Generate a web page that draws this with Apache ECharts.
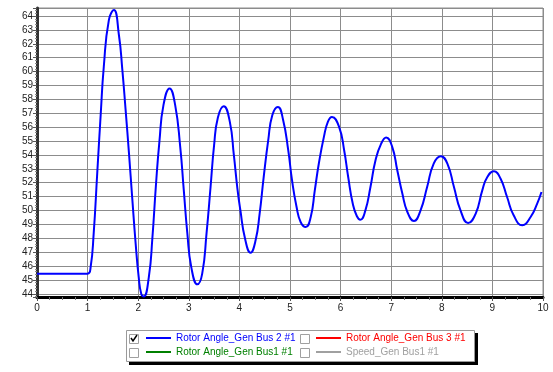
<!DOCTYPE html>
<html>
<head>
<meta charset="utf-8">
<script src="https://cdn.jsdelivr.net/npm/echarts@6/dist/echarts.min.js"></script>
<style>
  html, body { margin: 0; padding: 0; background: #fff; }
  #chart { width: 553px; height: 372px; }
</style>
</head>
<body>
<div id="chart"></div>
<script>
// time (s) and rotor angle (deg)
const times = [0, 1.0, 1.06, 1.12, 1.19, 1.26, 1.32, 1.42, 1.52, 1.62, 1.685, 1.75, 1.82, 1.88, 1.95, 2.01, 2.06, 2.11,
  2.21, 2.28, 2.35, 2.42, 2.50, 2.62, 2.73, 2.83, 2.90, 2.97, 3.05, 3.17,
  3.265, 3.35, 3.43, 3.50, 3.575, 3.69, 3.81, 3.89, 3.96, 4.02, 4.11, 4.22,
  4.32, 4.40, 4.48, 4.57, 4.65, 4.76, 4.865, 4.965, 5.04, 5.13, 5.21, 5.31,
  5.41, 5.49, 5.57, 5.67, 5.75, 5.83, 5.97, 6.07, 6.15, 6.24, 6.32, 6.39,
  6.49, 6.59, 6.69, 6.80, 6.90, 7.02, 7.12, 7.22, 7.32, 7.45,
  7.58, 7.71, 7.84, 7.98, 8.11, 8.24, 8.37, 8.52,
  8.67, 8.80, 8.90, 9.03, 9.16, 9.29, 9.42, 9.59, 9.755, 9.885, 9.97];
const angleBus2 = [45.45, 45.45, 45.93, 48.33, 52.66, 56.98, 60.35, 63.71, 64.43, 62.6, 60.2, 57.3, 54.0, 51.0, 47.6, 45.2, 44.0, 43.81,
  45.2, 48.0, 51.8, 55.0, 57.6, 58.79, 57.6, 54.6, 51.5, 48.4, 45.9, 44.68,
  45.45, 48.33, 51.69, 54.7, 56.7, 57.51, 56.4, 54.0, 51.6, 50.0, 48.0, 46.96,
  47.85, 49.77, 52.41, 55.06, 56.86, 57.46, 56.5, 54.34, 52.18, 50.25, 49.17, 48.81,
  49.53, 51.45, 53.38, 55.3, 56.4, 56.74, 56.02, 54.34, 52.41, 50.5, 49.6, 49.34,
  50.01, 51.69, 53.62, 54.8, 55.25, 54.58, 52.9, 51.22, 49.89, 49.24,
  50.01, 51.69, 53.38, 53.91, 53.38, 51.69, 50.01, 49.1,
  49.77, 51.45, 52.41, 52.82, 52.3, 50.97, 49.65, 48.93, 49.53, 50.5, 51.33];

const seriesNames = ['Rotor Angle_Gen Bus 2 #1', 'Rotor Angle_Gen Bus 3 #1', 'Rotor Angle_Gen Bus1 #1', 'Speed_Gen Bus1 #1'];
const seriesColors = ['#0000ff', '#ff0000', '#008000', '#a0a0a0'];

const chart = echarts.init(document.getElementById('chart'));

const font = 'Liberation Sans, Arial, sans-serif';
// legend placement: [left, top] for each entry
const legendPos = [[146, 333], [316, 333], [146, 347], [316, 347]];

const legends = seriesNames.map((name, i) => ({
  data: [name],
  left: legendPos[i][0],
  top: legendPos[i][1],
  padding: 0,
  icon: 'rect',
  itemWidth: 25,
  itemHeight: 2,
  textStyle: { color: seriesColors[i], fontSize: 10, fontFamily: font },
  selectedMode: false
}));

const series = seriesNames.map((name, i) => ({
  name: name,
  type: 'line',
  data: i === 0 ? times.map((t, k) => [t, angleBus2[k]]) : [],
  showSymbol: false,
  smooth: 0.5,
  lineStyle: { color: seriesColors[i], width: 2 },
  itemStyle: { color: seriesColors[i] }
}));

const boxes = [[129, 334], [300, 334], [129, 348], [300, 348]].map(p => ({
  type: 'rect',
  shape: { x: p[0] + 0.5, y: p[1] + 0.5, width: 9, height: 9 },
  style: { fill: '#fff', stroke: '#a0a0a0', lineWidth: 1 }
}));

chart.setOption({
  animation: false,
  grid: {
    left: 37, right: 10, top: 8, bottom: 75,
    show: true, borderColor: '#8c8c8c', borderWidth: 1
  },
  xAxis: {
    type: 'value',
    min: 0, max: 10, interval: 1,
    axisLine: { show: true, lineStyle: { color: '#000', width: 3 } },
    axisTick: { show: true, length: 4, lineStyle: { color: '#555' } },
    minorTick: { show: true, splitNumber: 4, length: 3, lineStyle: { color: '#777' } },
    axisLabel: { color: '#222', fontSize: 10, fontFamily: font, margin: 6 },
    splitLine: { show: true, lineStyle: { color: '#8c8c8c', width: 1 } }
  },
  yAxis: {
    type: 'value',
    min: 43.77, max: 64.58,
    minInterval: 1, maxInterval: 1,
    axisLine: { show: true, lineStyle: { color: '#333', width: 3 } },
    axisTick: { show: true, length: 4, lineStyle: { color: '#555' } },
    minorTick: { show: true, splitNumber: 5, length: 2, lineStyle: { color: '#888' } },
    axisLabel: {
      color: '#222', fontSize: 10, fontFamily: font, margin: 4,
      formatter: v => (Math.abs(v - Math.round(v)) < 1e-6 ? String(Math.round(v)) : '')
    },
    splitLine: { show: true, lineStyle: { color: '#8c8c8c', width: 1 } }
  },
  legend: legends,
  graphic: [
    { type: 'rect', shape: { x: 129, y: 333, width: 349, height: 32 }, style: { fill: '#000' }, z: -2 },
    { type: 'rect', shape: { x: 126.5, y: 330.5, width: 348, height: 31 }, style: { fill: '#fff', stroke: '#9a9a9a', lineWidth: 1 }, z: -1 },
    ...boxes,
    { type: 'polyline', shape: { points: [[131, 338], [133, 341], [137, 335]] }, style: { stroke: '#000', lineWidth: 1.5, fill: null } }
  ],
  series: series
});
</script>
</body>
</html>
